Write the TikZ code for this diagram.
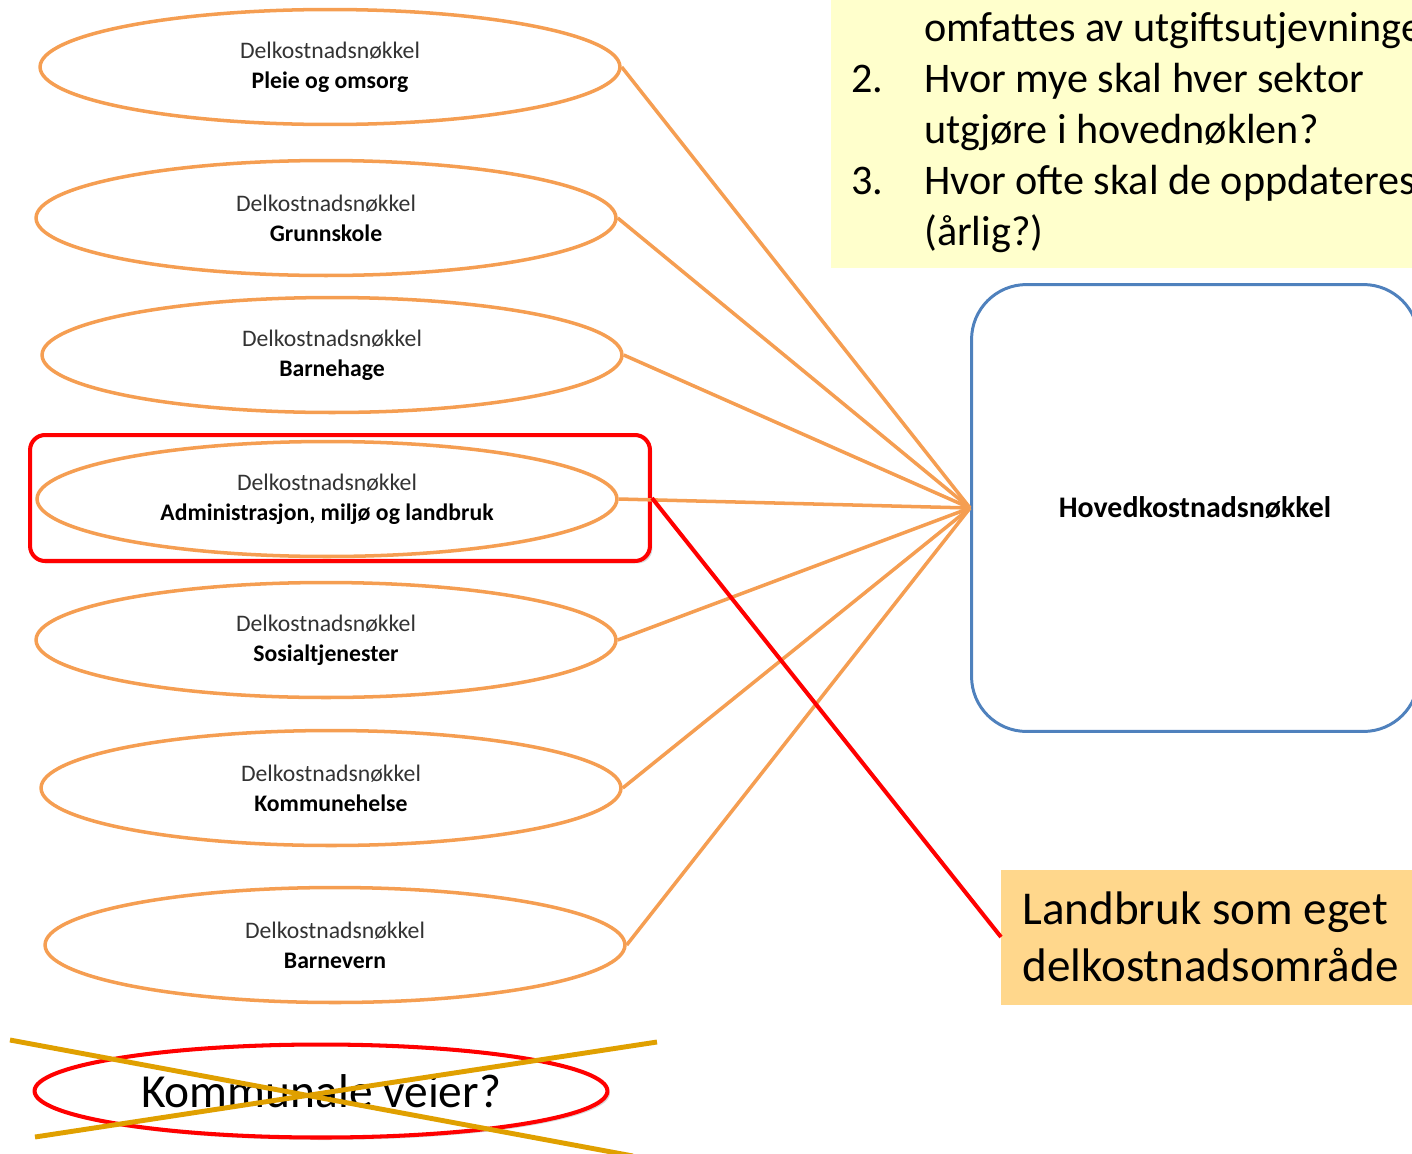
\documentclass[tikz,border=0pt]{standalone}
\usepackage{fontspec}
\setmainfont{Carlito}
\usepackage{xcolor}
\usepackage{tikz}
\usetikzlibrary{shapes.geometric,shadows}

\definecolor{delorange}{RGB}{245,158,82}
\definecolor{hovedblaa}{RGB}{79,129,189}
\definecolor{spmgul}{RGB}{255,255,204}
\definecolor{landgul}{RGB}{255,215,140}
\definecolor{kryssgul}{RGB}{224,160,0}

\begin{document}
\begin{tikzpicture}[x=0.02cm, y=-0.02cm, every node/.style={font=\fontsize{13.5}{17}\selectfont}, del/.style={draw=delorange,line width=2pt,ellipse,minimum width=11.6cm,minimum height=2.3cm,inner sep=0pt,align=center}, kobling/.style={draw=delorange,line width=2pt}, markert/.style={draw=red,line width=2.3pt,fill=white,drop shadow={opacity=0.3,shadow xshift=0.05cm,shadow yshift=-0.05cm}}]
\useasboundingbox (0,0) rectangle (1412,1153);
\clip (0,0) rectangle (1412,1153);
% spoersmaal oppe til hoeyre
\node[fill=spmgul,minimum width=11.9cm,minimum height=5.5cm,anchor=south west,inner sep=0pt] (spm) at (831,268) {};
\node[anchor=west,align=left,inner sep=0pt,font=\fontsize{24}{29}\selectfont] (spmtekst) at (851,133) {\hspace*{41.5pt}omfattes av utgiftsutjevningen?\\ \makebox[41.5pt][l]{2.}Hvor mye skal hver sektor\\ \hspace*{41.5pt}utgjøre i hovednøklen?\\ \makebox[41.5pt][l]{3.}Hvor ofte skal de oppdateres\\ \hspace*{41.5pt}(årlig?)};
% markering rundt administrasjon
\node[markert,rounded corners=0.3cm,minimum width=12.4cm,minimum height=2.52cm] (markering) at (340,498) {};
% delnoekler
\node[del] (pleie) at (330,67) {\textcolor{black!80}{Delkostnadsnøkkel}\\\textbf{Pleie og omsorg}};
\node[del] (grunnskole) at (326,218) {\textcolor{black!80}{Delkostnadsnøkkel}\\\textbf{Grunnskole}};
\node[del] (barnehage) at (332,355) {\textcolor{black!80}{Delkostnadsnøkkel}\\\textbf{Barnehage}};
\node[del] (admin) at (327,499) {\textcolor{black!80}{Delkostnadsnøkkel}\\\textbf{Administrasjon, miljø og landbruk}};
\node[del] (sosial) at (326,640) {\textcolor{black!80}{Delkostnadsnøkkel}\\\textbf{Sosialtjenester}};
\node[del] (helse) at (331,788) {\textcolor{black!80}{Delkostnadsnøkkel}\\\textbf{Kommunehelse}};
\node[del] (barnevern) at (335,945) {\textcolor{black!80}{Delkostnadsnøkkel}\\\textbf{Barnevern}};
% hovednoekkel
\node[draw=hovedblaa,line width=1.7pt,rounded corners=1.1cm,minimum width=8.94cm,minimum height=8.94cm,font=\fontsize{17}{20}\selectfont\bfseries] (hoved) at (1195,508) {Hovedkostnadsnøkkel};
\draw[kobling] (pleie.east)--(hoved.west);
\draw[kobling] (grunnskole.east)--(hoved.west);
\draw[kobling] (barnehage.east)--(hoved.west);
\draw[kobling] (admin.east)--(hoved.west);
\draw[kobling] (sosial.east)--(hoved.west);
\draw[kobling] (helse.east)--(hoved.west);
\draw[kobling] (barnevern.east)--(hoved.west);
% landbruk
\node[fill=landgul,anchor=west,align=flush left,text width=7.9cm,inner xsep=0.42cm,minimum height=2.7cm,font=\fontsize{26.8}{32.5}\selectfont] (landbruk) at (1001,937) {Landbruk som eget\\delkostnadsområde};
\draw[red,line width=2.3pt] (markering.east)--(landbruk.west);
% kommunale veier, strøket
\node[markert,ellipse,minimum width=11.46cm,minimum height=1.86cm,inner sep=0pt,font=\fontsize{27}{32}\selectfont] (veier) at (321,1091) {Kommunale veier?};
\coordinate (kryss1) at (10,1040);
\coordinate (kryss2) at (633,1156);
\coordinate (kryss3) at (35,1137);
\coordinate (kryss4) at (657,1042);
\draw[kryssgul,line width=2.8pt] (kryss1)--(kryss2);
\draw[kryssgul,line width=2.8pt] (kryss3)--(kryss4);
\end{tikzpicture}
\end{document}
